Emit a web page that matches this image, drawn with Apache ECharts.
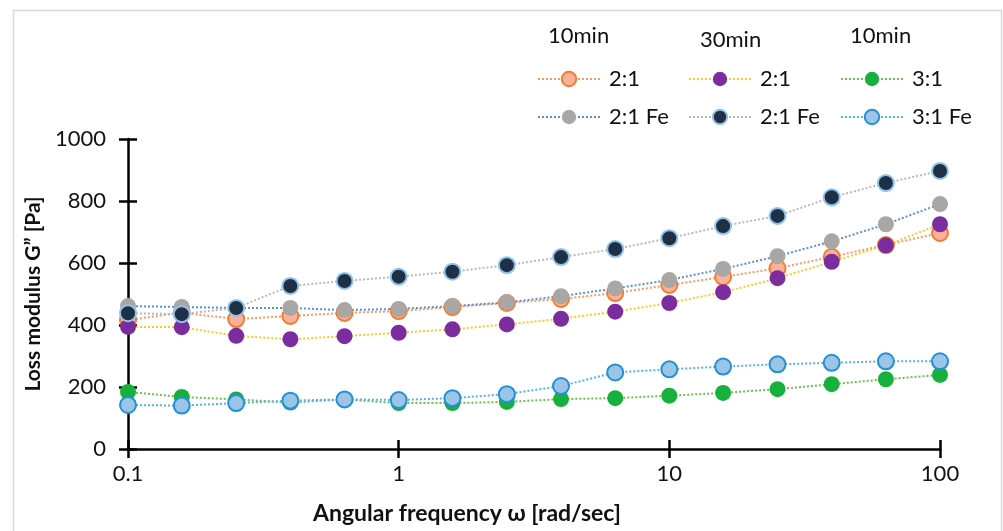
<!DOCTYPE html>
<html><head><meta charset="utf-8">
<script src="https://cdn.jsdelivr.net/npm/echarts@6/dist/echarts.min.js"></script>
<style>html,body{margin:0;padding:0;background:#fff}#c{width:1003px;height:531px}</style>
</head><body><div id="c"></div>
<script>
const freq = [0.1, 0.158, 0.251, 0.398, 0.631, 1, 1.58, 2.51, 3.98, 6.31, 10, 15.8, 25.1, 39.8, 63.1, 100];
const g10_21   = [416, 440, 419, 429, 439, 445, 458, 471, 484, 503, 529, 555, 583, 620, 658, 697];
const g10_21Fe = [461, 458, 455, 455, 448, 452, 461, 473, 493, 518, 545, 581, 622, 670, 725, 790];
const g30_21   = [394, 393, 365, 354, 364, 375, 386, 402, 420, 443, 471, 506, 551, 604, 657, 725];
const g30_21Fe = [438, 435, 455, 526, 542, 556, 572, 593, 619, 645, 680, 719, 752, 812, 858, 897];
const g10_31   = [184, 168, 160, 150, 160, 148, 148, 152, 161, 164, 172, 181, 193, 209, 225, 239];
const g10_31Fe = [142, 140, 148, 156, 160, 158, 164, 177, 203, 247, 257, 266, 273, 278, 283, 283];
const yTicks = [0, 200, 400, 600, 800, 1000];
const xTicks = [0.1, 1, 10, 100];
const groupHeaders = ['10min', '30min', '10min'];

const FONT = 'Lato';
function pairs(v){ return freq.map((f,i)=>[f, v[i]]); }
function mk(name, vals, lineColor, fill, border, bw){
  return {
    type:'line', name, data: pairs(vals), symbol:'circle', symbolSize:16,
    lineStyle:{color:lineColor, width:2, type:[2,2]},
    itemStyle:{color:fill, borderColor:border||fill, borderWidth:bw||0},
    emphasis:{disabled:true}, animation:false
  };
}
const series = [
  mk('2:1',    g10_21,   '#f79a62', '#f9b197', '#f47b2f', 2),
  mk('2:1 Fe', g10_21Fe, '#5a8fdc', '#a9a6a6'),
  mk('2:1 ',   g30_21,   '#ffc72a', '#7b2d9f'),
  mk('2:1 Fe ',g30_21Fe, '#b8b8b8', '#1f2f45', '#8fc3ea', 2),
  mk('3:1',    g10_31,   '#6cc04a', '#16b03c'),
  mk('3:1 Fe', g10_31Fe, '#56b0ea', '#9cc4e6', '#2090d8', 2)
];
function legend(left, names){
  return {left, top:63, orient:'vertical', itemWidth:62, itemHeight:18, itemGap:16,
    data:names, selectedMode:false,
    textStyle:{fontFamily:FONT, fontSize:22, color:'#111', padding:[0,0,0,4]}};
}
const axisLineStyle = {color:'#000', width:2.5};
const chart = echarts.init(document.getElementById('c'));
chart.setOption({
  backgroundColor:'#fff',
  animation:false,
  grid:{left:128, right:63, top:139, bottom:82},
  legend:[legend(532,['2:1','2:1 Fe']), legend(683,['2:1 ','2:1 Fe ']), legend(835,['3:1','3:1 Fe'])],
  graphic:[
    {type:'rect', shape:{x:13.5, y:10.5, width:988, height:560}, style:{fill:'none', stroke:'#d9d9d9', lineWidth:1.5}, silent:true},
    {type:'text', left:548, top:25, style:{text:groupHeaders[0], font:'22px '+FONT, fill:'#111'}},
    {type:'text', left:700, top:29, style:{text:groupHeaders[1], font:'22px '+FONT, fill:'#111'}},
    {type:'text', left:850, top:25, style:{text:groupHeaders[2], font:'22px '+FONT, fill:'#111'}}
  ],
  xAxis:[{
    type:'log', logBase:10, min:0.1, max:100,
    name:'Angular frequency ω [rad/sec]', nameLocation:'middle', nameGap:53,
    nameTextStyle:{fontFamily:FONT, fontWeight:'bold', fontSize:23, color:'#111', padding:[0,134,0,0]},
    axisLine:{lineStyle:axisLineStyle},
    axisTick:{length:9, lineStyle:axisLineStyle},
    splitLine:{show:false},
    axisLabel:{fontFamily:FONT, fontSize:22, color:'#111', margin:14,
      formatter:v=> xTicks.includes(+v) ? String(+v) : ''}
  },{
    type:'log', logBase:10, min:0.1, max:100, position:'bottom',
    axisLine:{show:false}, axisTick:{inside:true, length:9, lineStyle:axisLineStyle},
    axisLabel:{show:false}, splitLine:{show:false}
  }],
  yAxis:[{
    type:'value', min:0, max:1000, interval:200,
    name:'Loss modulus G” [Pa]', nameLocation:'middle', nameGap:71,
    nameTextStyle:{fontFamily:FONT, fontWeight:'bold', fontSize:21, color:'#111'},
    axisLine:{show:true, lineStyle:axisLineStyle},
    axisTick:{show:true, length:9, lineStyle:axisLineStyle},
    splitLine:{show:false},
    axisLabel:{fontFamily:FONT, fontSize:22, color:'#111', margin:22,
      formatter:v=> yTicks.includes(v) ? String(v) : ''}
  },{
    type:'value', min:0, max:1000, interval:200, position:'left',
    axisLine:{show:false}, axisTick:{show:true, inside:true, length:9, lineStyle:axisLineStyle},
    axisLabel:{show:false}, splitLine:{show:false}
  }],
  series
});
</script></body></html>
